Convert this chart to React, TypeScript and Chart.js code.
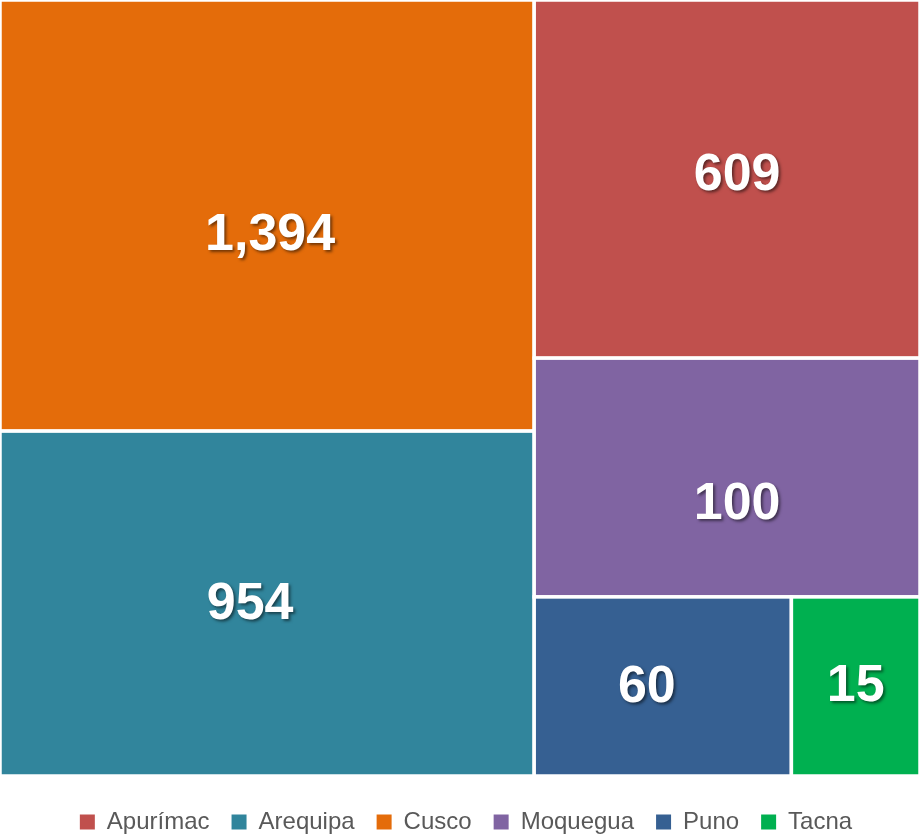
import React, { useEffect, useRef } from 'react';
import { Chart, registerables } from 'chart.js';

Chart.register(...registerables);

// Data
const categories = ['Apurímac', 'Arequipa', 'Cusco', 'Moquegua', 'Puno', 'Tacna'];
const values = [609, 954, 1394, 100, 60, 15];
const areaWeights = [6, 8, 10, 4, 2, 1];
const colors = ['#C0504D', '#31859C', '#E46C0A', '#8064A2', '#366092', '#00B050'];

// Styling: label nudges (px) relative to the tile centre, as placed in the original
const labelNudge: Record<string, [number, number]> = {
  'Apurímac': [10, -8],
  'Arequipa': [-17, -3],
  'Cusco': [3, 16],
  'Moquegua': [10, 23],
  'Puno': [-16, -3],
  'Tacna': [0, -4],
};

type Rect = { x: number; y: number; w: number; h: number };
type Item = { i: number; a: number };

function worst(row: number[], side: number) {
  const s = row.reduce((p, c) => p + c, 0);
  const mx = Math.max(...row);
  const mn = Math.min(...row);
  return Math.max((side * side * mx) / (s * s), (s * s) / (side * side * mn));
}

function squarify(list: Item[], rect: Rect): Map<number, Rect> {
  const out = new Map<number, Rect>();
  let items = [...list];
  let r = { ...rect };
  while (items.length) {
    const side = Math.min(r.w, r.h);
    const row: Item[] = [items[0]];
    let k = 1;
    while (k < items.length) {
      const cur = worst(row.map((o) => o.a), side);
      const next = worst([...row, items[k]].map((o) => o.a), side);
      if (next <= cur) {
        row.push(items[k]);
        k++;
      } else break;
    }
    items = items.slice(k);
    const s = row.reduce((p, o) => p + o.a, 0);
    if (r.w >= r.h) {
      const cw = s / r.h;
      let y = r.y;
      row.forEach((o) => {
        const h = o.a / cw;
        out.set(o.i, { x: r.x, y, w: cw, h });
        y += h;
      });
      r = { x: r.x + cw, y: r.y, w: r.w - cw, h: r.h };
    } else {
      const rh = s / r.w;
      let x = r.x;
      row.forEach((o) => {
        const w = o.a / rh;
        out.set(o.i, { x, y: r.y, w, h: rh });
        x += w;
      });
      r = { x: r.x, y: r.y + rh, w: r.w, h: r.h - rh };
    }
  }
  return out;
}

const treemapPlugin = {
  id: 'treemapDraw',
  afterLayout(chart: any) {
    if (chart.legend) {
      chart.legend.left += 6;
      chart.legend.right += 6;
    }
  },
  beforeDatasetsDraw(chart: any) {
    const xs = chart.scales.x;
    const ys = chart.scales.y;
    const ctx = chart.ctx as CanvasRenderingContext2D;
    const pw = Math.abs(xs.getPixelForValue(1) - xs.getPixelForValue(0));
    const ph = Math.abs(ys.getPixelForValue(1) - ys.getPixelForValue(0));
    const total = areaWeights.reduce((p, c) => p + c, 0);
    const items = areaWeights
      .map((w, i) => ({ i, a: (w / total) * pw * ph }))
      .sort((a, b) => b.a - a.a);
    const rects = squarify(items, { x: 0, y: 0, w: pw, h: ph });

    const boxes: { i: number; x0: number; x1: number; y0: number; y1: number }[] = [];
    rects.forEach((r, i) => {
      const x0 = xs.getPixelForValue(r.x / pw);
      const x1 = xs.getPixelForValue((r.x + r.w) / pw);
      const y0 = ys.getPixelForValue(r.y / ph);
      const y1 = ys.getPixelForValue((r.y + r.h) / ph);
      boxes.push({ i, x0, x1, y0, y1 });
    });

    ctx.save();
    boxes.forEach((b) => {
      ctx.fillStyle = colors[b.i];
      ctx.fillRect(b.x0, b.y0, b.x1 - b.x0, b.y1 - b.y0);
      ctx.strokeStyle = '#FFFFFF';
      ctx.lineWidth = 3.5;
      ctx.strokeRect(b.x0, b.y0, b.x1 - b.x0, b.y1 - b.y0);
    });
    ctx.font = 'bold 52px "Liberation Sans", Arial, sans-serif';
    ctx.textAlign = 'center';
    ctx.textBaseline = 'alphabetic';
    ctx.fillStyle = '#FFFFFF';
    ctx.shadowColor = 'rgba(0,0,0,0.5)';
    ctx.shadowOffsetX = 2;
    ctx.shadowOffsetY = 2;
    ctx.shadowBlur = 3;
    boxes.forEach((b) => {
      const [nx, ny] = labelNudge[categories[b.i]] || [0, 0];
      const cx = (b.x0 + b.x1) / 2 + nx;
      const cy = (b.y0 + b.y1) / 2 + ny;
      ctx.fillText(values[b.i].toLocaleString('en-US'), cx, cy + 52 * 0.358);
    });
    ctx.restore();
  },
};

export default function App() {
  const ref = useRef<HTMLCanvasElement | null>(null);
  useEffect(() => {
    if (!ref.current) return;
    const chart = new Chart(ref.current, {
      type: 'scatter',
      data: { datasets: [{ label: 'Treemap', data: [] }] },
      options: {
        animation: false,
        responsive: false,
        devicePixelRatio: 1,
        layout: { padding: 0 },
        scales: {
          x: { type: 'linear', min: 0, max: 1, display: false },
          y: { type: 'linear', min: 0, max: 1, reverse: true, display: false },
        },
        plugins: {
          tooltip: { enabled: false },
          legend: {
            position: 'bottom',
            onClick: () => {},
            title: { display: true, text: '', font: { size: 12, lineHeight: 1 }, padding: 0 },
            labels: {
              boxWidth: 15,
              boxHeight: 15,
              padding: 22,
              color: '#595959',
              font: { size: 24, family: '"Liberation Sans", Arial, sans-serif' },
              generateLabels: () =>
                categories.map((c, i) => ({
                  text: c,
                  fillStyle: colors[i],
                  strokeStyle: colors[i],
                  lineWidth: 0,
                  hidden: false,
                  fontColor: '#595959',
                  datasetIndex: 0,
                })),
            },
          },
        },
      },
      plugins: [treemapPlugin],
    } as any);
    return () => chart.destroy();
  }, []);
  return (
    <div style={{ position: 'fixed', left: 0, top: 0, width: 920, height: 837, overflow: 'hidden', background: '#FFFFFF' }}>
      <canvas ref={ref} width={920} height={844} style={{ display: 'block' }} />
    </div>
  );
}
